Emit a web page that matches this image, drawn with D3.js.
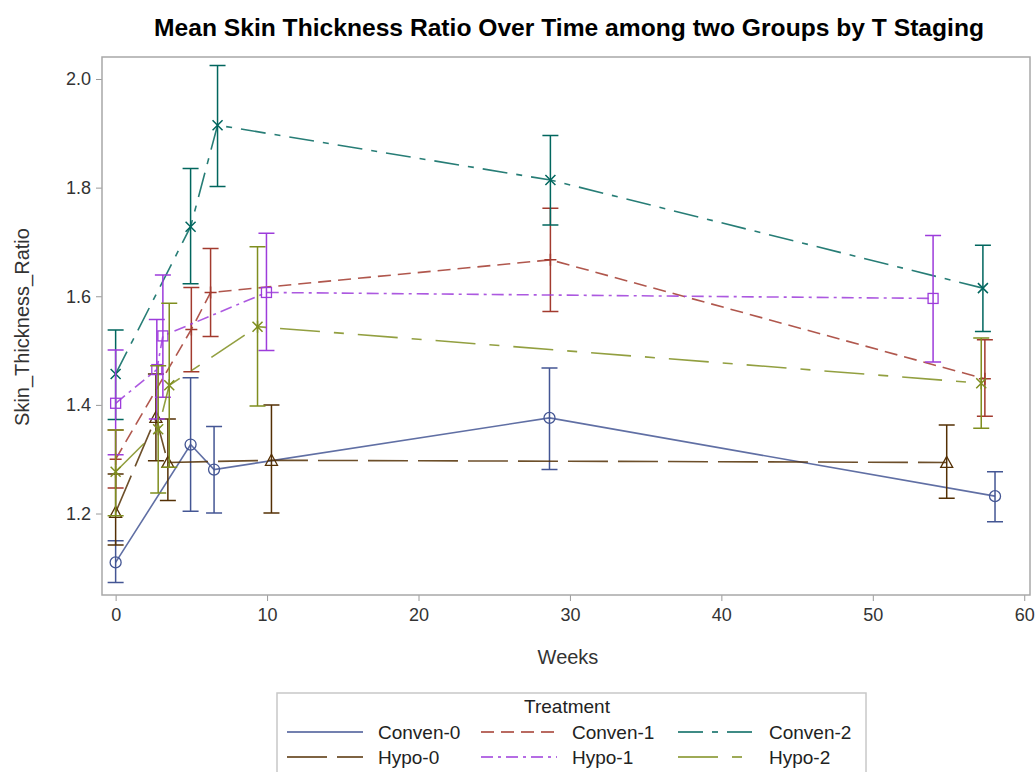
<!DOCTYPE html>
<html lang="en">
<head>
<meta charset="UTF-8">
<script src="https://d3js.org/d3.v7.min.js"></script>
<title>Mean Skin Thickness Ratio</title>
<style>
  body { margin: 0; background: #fff; }
  text { font-family: "Liberation Sans", Arial, sans-serif; }
</style>
</head>
<body>
<svg id="svg1" width="1036" height="772"></svg>
<script>
// each row: [week, mean, lower, upper]
const conven0 = [[0, 1.110, 1.073, 1.150], [4.95, 1.327, 1.204, 1.450], [6.5, 1.281, 1.201, 1.360], [28.65, 1.376, 1.281, 1.468], [58.07, 1.232, 1.185, 1.277]]
const conven1 = [[0, 1.300, 1.247, 1.354], [5.0, 1.539, 1.461, 1.616], [6.27, 1.607, 1.526, 1.688], [28.71, 1.667, 1.572, 1.762], [57.4, 1.448, 1.379, 1.520]]
const conven2 = [[0, 1.457, 1.373, 1.538], [4.95, 1.728, 1.623, 1.835], [6.73, 1.915, 1.802, 2.025], [28.71, 1.814, 1.731, 1.896], [57.27, 1.615, 1.535, 1.694]]
const hypo0 = [[0, 1.202, 1.142, 1.273], [2.66, 1.377, 1.297, 1.457], [3.45, 1.294, 1.224, 1.374], [10.29, 1.298, 1.201, 1.400], [54.88, 1.294, 1.228, 1.363]]
const hypo1 = [[0, 1.403, 1.308, 1.501], [2.72, 1.465, 1.374, 1.557], [3.12, 1.527, 1.414, 1.639], [9.96, 1.607, 1.500, 1.716], [53.98, 1.596, 1.479, 1.712]]
const hypo2 = [[0, 1.277, 1.196, 1.354], [2.81, 1.355, 1.238, 1.472], [3.54, 1.436, 1.285, 1.587], [9.37, 1.544, 1.398, 1.691], [57.16, 1.440, 1.357, 1.523]]

const groupNames = ["Conven-0", "Conven-1", "Conven-2", "Hypo-0", "Hypo-1", "Hypo-2"]
const groupData = [conven0, conven1, conven2, hypo0, hypo1, hypo2]
const colors = ["#445694", "#A23A2E", "#01665E", "#543005", "#9D3CDB", "#7F8E1F"]
const dashes = [null, "13,7", "25,9,6,9", "40,10", "12,5,3,5", "40,14,10,14"]
const markers = ["circle", "plus", "x", "triangle", "square", "asterisk"]

const xTicks = [0, 10, 20, 30, 40, 50, 60]
const yTicks = [1.2, 1.4, 1.6, 1.8, 2.0]

let svg = d3.select("#svg1")
let plotLeft = 102, plotRight = 1030, plotTop = 57, plotBottom = 595

let x = d3.scaleLinear().domain([-0.9, 60.38]).range([plotLeft, plotRight])
let y = d3.scaleLinear().domain([1.05, 2.0405]).range([plotBottom, plotTop])

// title
svg.append("text")
    .attr("x", 569).attr("y", 36)
    .attr("text-anchor", "middle")
    .attr("textLength", 830).attr("lengthAdjust", "spacingAndGlyphs")
    .style("font-family", "'Liberation Sans Narrow', 'Liberation Sans', Arial, sans-serif")
    .style("font-weight", "bold").style("font-size", "23px")
    .text("Mean Skin Thickness Ratio Over Time among two Groups by T Staging")

// axes
let xAxis = svg.append("g").attr("transform", `translate(0,${plotBottom})`)
    .call(d3.axisBottom(x).tickValues(xTicks).tickSize(6).tickPadding(7).tickFormat(d3.format("d")))
let yAxis = svg.append("g").attr("transform", `translate(${plotLeft},0)`)
    .call(d3.axisLeft(y).tickValues(yTicks).tickSize(6).tickPadding(5).tickFormat(d3.format(".1f")))
;[xAxis, yAxis].forEach(a => {
    a.select(".domain").remove()
    a.selectAll(".tick line").attr("stroke", "#9a9a9a")
    a.selectAll(".tick text").attr("fill", "#333").style("font-size", "18px")
        .style("font-family", "'Liberation Sans', Arial, sans-serif")
})

svg.append("rect")
    .attr("x", plotLeft).attr("y", plotTop).attr("width", plotRight - plotLeft).attr("height", plotBottom - plotTop)
    .attr("fill", "none").attr("stroke", "#a8a8a8").attr("stroke-width", 1.5)

svg.append("text").attr("x", 568).attr("y", 664).attr("text-anchor", "middle")
    .attr("fill", "#333").style("font-size", "20px").text("Weeks")
svg.append("text").attr("transform", "translate(29,327) rotate(-90)").attr("text-anchor", "middle")
    .attr("fill", "#333").style("font-size", "20px").text("Skin_Thickness_Ratio")

function drawMarker(g, type, cx, cy, color) {
    let s = 5
    if (type == "circle") {
        g.append("circle").attr("cx", cx).attr("cy", cy).attr("r", 5.5)
            .attr("fill", "none").attr("stroke", color).attr("stroke-width", 1.3)
    } else if (type == "square") {
        g.append("rect").attr("x", cx - s).attr("y", cy - s).attr("width", 2 * s).attr("height", 2 * s)
            .attr("fill", "none").attr("stroke", color).attr("stroke-width", 1.3)
    } else if (type == "triangle") {
        g.append("path").attr("d", `M${cx},${cy - 6}L${cx + 6},${cy + 5}L${cx - 6},${cy + 5}Z`)
            .attr("fill", "none").attr("stroke", color).attr("stroke-width", 1.3)
    } else {
        let d = ""
        if (type == "plus") d = `M${cx - 6},${cy}H${cx + 6}M${cx},${cy - 6}V${cy + 6}`
        if (type == "x" || type == "asterisk") d = `M${cx - 5},${cy - 5}L${cx + 5},${cy + 5}M${cx - 5},${cy + 5}L${cx + 5},${cy - 5}`
        if (type == "asterisk") d += `M${cx},${cy - 6}V${cy + 6}`
        g.append("path").attr("d", d).attr("fill", "none").attr("stroke", color).attr("stroke-width", 1.5)
    }
}

let line = d3.line().x(d => x(d[0])).y(d => y(d[1]))
let plot = svg.append("g")

groupData.forEach((data, i) => {
    let g = plot.append("g")
    g.append("path").datum(data).attr("d", line)
        .attr("fill", "none").attr("stroke", colors[i]).attr("stroke-width", 1.6)
        .attr("stroke-opacity", 0.85)
        .attr("stroke-dasharray", dashes[i])
    g.selectAll(".bar").data(data).enter().append("path")
        .attr("d", d => `M${x(d[0])},${y(d[2])}V${y(d[3])}M${x(d[0]) - 8},${y(d[2])}H${x(d[0]) + 8}M${x(d[0]) - 8},${y(d[3])}H${x(d[0]) + 8}`)
        .attr("fill", "none").attr("stroke", colors[i]).attr("stroke-width", 1.5)
    data.forEach(d => drawMarker(g, markers[i], x(d[0]), y(d[1]), colors[i]))
})

// legend
let lg = svg.append("g")
lg.append("rect").attr("x", 277).attr("y", 693).attr("width", 589).attr("height", 90)
    .attr("fill", "none").attr("stroke", "#c8c8c8").attr("stroke-width", 1.5)
lg.append("text").attr("x", 567).attr("y", 713).attr("text-anchor", "middle")
    .attr("fill", "#222").style("font-size", "19px").text("Treatment")
let colX = [287, 481, 678]
groupNames.forEach((name, i) => {
    let cx = colX[i % 3], cy = i < 3 ? 732 : 757
    lg.append("line").attr("x1", cx).attr("x2", cx + 76).attr("y1", cy).attr("y2", cy)
        .attr("stroke", colors[i]).attr("stroke-width", 1.6).attr("stroke-dasharray", dashes[i])
    lg.append("text").attr("x", cx + 91).attr("y", cy + 7)
        .attr("fill", "#222").style("font-size", "19px").text(name)
})
</script>
</body>
</html>
